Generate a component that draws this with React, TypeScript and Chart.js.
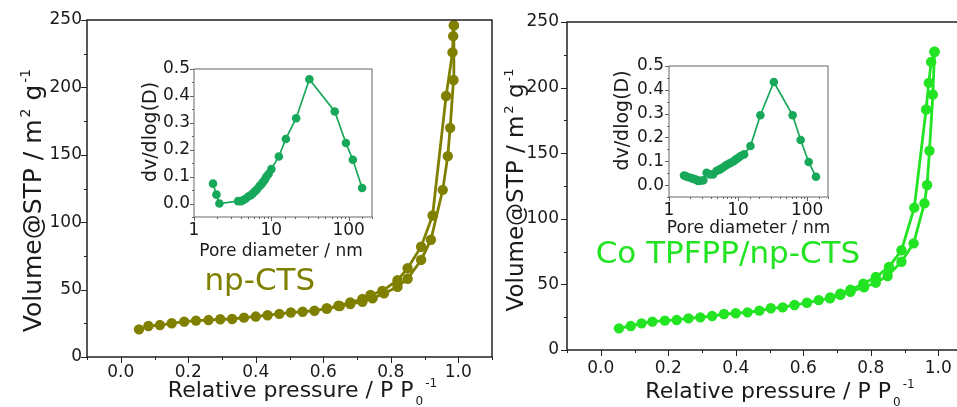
import React, { useEffect, useRef } from 'react';
import { Chart, registerables } from 'chart.js';
Chart.register(...registerables);

const FONT = '"DejaVu Sans", sans-serif';

// ---- np-CTS isotherm ----
const npAdsX = [0.054, 0.082, 0.116, 0.151, 0.188, 0.223, 0.26, 0.295, 0.33, 0.365, 0.4, 0.435, 0.47, 0.504, 0.539, 0.574, 0.611, 0.649, 0.68, 0.716, 0.746, 0.78, 0.82, 0.85, 0.89, 0.919, 0.954, 0.969, 0.976, 0.986, 0.987];
const npAdsY = [20.5, 23, 23.7, 25, 26.2, 27, 27.4, 28, 28.2, 29.2, 30, 31, 32, 33, 33.6, 34.3, 36, 37.8, 39.3, 41, 43.5, 47.2, 52, 58, 72, 87, 124, 149, 170, 205.5, 246];
const npDesX = [0.987, 0.985, 0.983, 0.964, 0.924, 0.89, 0.85, 0.82, 0.775, 0.74, 0.716, 0.68, 0.645, 0.61];
const npDesY = [246, 238, 226, 193.6, 105, 81.8, 65.8, 57, 49, 46, 43, 40.5, 38, 36];

// ---- Co TPFPP/np-CTS isotherm ----
const coAdsX = [0.054, 0.089, 0.121, 0.153, 0.19, 0.225, 0.26, 0.295, 0.33, 0.365, 0.4, 0.435, 0.47, 0.504, 0.539, 0.574, 0.611, 0.646, 0.679, 0.71, 0.74, 0.78, 0.815, 0.85, 0.891, 0.927, 0.959, 0.967, 0.974, 0.984, 0.989];
const coAdsY = [16.5, 18.3, 20.3, 21.6, 22.4, 22.9, 24.1, 24.9, 25.9, 27.4, 28, 28.7, 30, 31.8, 32.5, 34.3, 36, 38, 39.4, 42, 44.4, 47.8, 51.3, 56.4, 67.3, 81.3, 111.8, 125.8, 151.9, 194.7, 227.3];
const coDesX = [0.989, 0.979, 0.972, 0.964, 0.929, 0.891, 0.854, 0.815, 0.778, 0.74, 0.71, 0.68];
const coDesY = [227.3, 219.6, 203.6, 183.3, 108.5, 76, 63.3, 55.6, 50.5, 46, 43, 40];

// ---- pore size distributions (insets) ----
const npPoreD = [1.76, 1.95, 2.13, 3.71, 4.03, 4.3, 4.6, 5.0, 5.4, 5.74, 6.1, 6.5, 7.0, 7.4, 7.76, 8.2, 8.6, 9.2, 10, 12.5, 15.4, 20.9, 31, 66, 92, 113, 149];
const npPoreV = [0.074, 0.033, 0.0, 0.009, 0.009, 0.012, 0.017, 0.025, 0.031, 0.037, 0.045, 0.052, 0.064, 0.071, 0.079, 0.088, 0.099, 0.11, 0.128, 0.175, 0.24, 0.317, 0.462, 0.342, 0.225, 0.163, 0.058];
const coPoreD = [1.65, 1.73, 1.85, 2.04, 2.2, 2.4, 2.55, 2.67, 2.85, 3.14, 3.5, 3.9, 4.35, 4.85, 5.3, 5.7, 6.2, 6.7, 7.3, 7.9, 8.6, 9.3, 10.1, 10.9, 12.2, 15.1, 21, 32.9, 61.6, 80.5, 105, 134];
const coPoreV = [0.04, 0.038, 0.034, 0.031, 0.027, 0.024, 0.02, 0.017, 0.018, 0.02, 0.052, 0.045, 0.045, 0.059, 0.064, 0.069, 0.076, 0.083, 0.089, 0.094, 0.1, 0.108, 0.115, 0.122, 0.129, 0.164, 0.293, 0.433, 0.293, 0.189, 0.097, 0.035];

// ---- text ----
const xTitleMain = [{ t: 'Relative pressure / P P' }, { t: '0', k: 'sub' }, { t: '-1', k: 'sup' }];
const yTitleMain = [{ t: 'Volume@STP / m' }, { t: '2', k: 'sup' }, { t: ' g' }, { t: '-1', k: 'sup' }];
const xTitleInset = [{ t: 'Pore diameter / nm' }];
const yTitleInset = [{ t: 'dv/dlog(D)' }];
const labelNp = 'np-CTS';
const labelCo = 'Co TPFPP/np-CTS';

const OLIVE = '#808000';
const BRIGHT = '#22e422';
const INSET = '#17a85a';
const INK = '#1a1a1a';

type Seg = { t: string; k?: string };

function rich(ctx: any, segs: Seg[], cx: number, cy: number, size: number, rot: boolean, color: string) {
  ctx.save();
  ctx.translate(cx, cy);
  if (rot) ctx.rotate(-Math.PI / 2);
  const small = Math.round(size * 0.55);
  let total = 0;
  const ws = segs.map((s) => {
    ctx.font = `${s.k ? small : size}px ${FONT}`;
    const w = ctx.measureText(s.t).width + (s.k ? 2 : 0);
    total += w;
    return w;
  });
  let x = -total / 2;
  ctx.fillStyle = color;
  ctx.textBaseline = 'alphabetic';
  ctx.textAlign = 'left';
  segs.forEach((s, i) => {
    ctx.font = `${s.k ? small : size}px ${FONT}`;
    const dy = s.k === 'sup' ? -size * 0.45 : s.k === 'sub' ? size * 0.38 : 0;
    ctx.fillText(s.t, x + (s.k ? 2 : 0), dy);
    x += ws[i];
  });
  ctx.restore();
}

function decoPlugin(o: any) {
  return {
    id: 'deco' + Math.random().toString(36).slice(2),
    afterDraw(chart: any) {
      const { ctx, chartArea: a } = chart;
      const xs = chart.scales.x;
      const ys = chart.scales.y;
      ctx.save();
      ctx.strokeStyle = o.frame;
      ctx.lineWidth = o.frameW;
      ctx.strokeRect(a.left, a.top, a.right - a.left, a.bottom - a.top);
      ctx.strokeStyle = o.frame;
      ctx.lineWidth = 1;
      ctx.beginPath();
      xs.ticks.forEach((t: any) => {
        const p = Math.round(xs.getPixelForValue(t.value)) + 0.5;
        if (p < a.left - 1 || p > a.right + 1) return;
        const L = t.label ? o.major : o.minor;
        ctx.moveTo(p, a.bottom);
        ctx.lineTo(p, a.bottom + L);
      });
      ys.ticks.forEach((t: any) => {
        const p = Math.round(ys.getPixelForValue(t.value)) + 0.5;
        if (p < a.top - 1 || p > a.bottom + 1) return;
        const L = t.label ? o.major : o.minor;
        ctx.moveTo(a.left, p);
        ctx.lineTo(a.left - L, p);
      });
      ctx.stroke();
      ctx.restore();
      const cxm = (a.left + a.right) / 2;
      const cym = (a.top + a.bottom) / 2;
      rich(ctx, o.xTitle, cxm + o.xT[0], o.xT[1], o.xTSize, false, INK);
      rich(ctx, o.yTitle, o.yT[0], cym + o.yT[1], o.yTSize, true, INK);
      if (o.label) {
        ctx.save();
        ctx.font = `${o.label.size}px ${FONT}`;
        ctx.fillStyle = o.label.color;
        ctx.textBaseline = 'alphabetic';
        ctx.textAlign = 'left';
        ctx.fillText(o.label.text, xs.getPixelForValue(o.label.x), ys.getPixelForValue(o.label.y));
        ctx.restore();
      }
    },
  };
}

function pts(xs: number[], ys: number[]) {
  return xs.map((x, i) => ({ x, y: ys[i] }));
}

function mainChart(canvas: HTMLCanvasElement, o: any) {
  const ds = (data: any) => ({
    data,
    showLine: true,
    borderColor: o.color,
    backgroundColor: o.color,
    pointBackgroundColor: o.color,
    pointBorderWidth: 0,
    pointRadius: 5.2,
    pointHoverRadius: 5.2,
    borderWidth: 2.8,
  });
  return new Chart(canvas, {
    type: 'scatter',
    data: { datasets: [ds(pts(o.ax, o.ay)), ds(pts(o.dx, o.dy))] },
    options: {
      responsive: false,
      animation: false,
      devicePixelRatio: 1,
      layout: { padding: { left: o.padL, top: o.padT, right: o.padR, bottom: 0 } },
      plugins: { legend: { display: false }, tooltip: { enabled: false } },
      scales: {
        x: {
          type: 'linear',
          min: -0.1,
          max: 1.1,
          grid: { display: false, drawTicks: false },
          border: { display: false },
          ticks: {
            stepSize: 0.1,
            autoSkip: false,
            maxRotation: 0,
            padding: o.xPad,
            color: INK,
            font: { family: FONT, size: 17 },
            callback: (v: number) => {
              const k = Math.round(v * 10);
              return k >= 0 && k <= 10 && k % 2 === 0 ? (k / 10).toFixed(1) : '';
            },
          },
          afterFit: (s: any) => {
            s.height = o.xH;
          },
        },
        y: {
          type: 'linear',
          min: 0,
          max: 250,
          grid: { display: false, drawTicks: false },
          border: { display: false },
          ticks: {
            stepSize: 25,
            autoSkip: false,
            padding: o.yPad,
            color: INK,
            font: { family: FONT, size: 17 },
            callback: (v: number) => (Math.round(v) % 50 === 0 ? String(Math.round(v)) : ''),
          },
          afterFit: (s: any) => {
            s.width = o.yW;
          },
        },
      },
    },
    plugins: [
      decoPlugin({
        frame: '#222',
        frameW: 1.5,
        major: 6,
        minor: 3,
        xTitle: xTitleMain,
        yTitle: yTitleMain,
        xT: o.xT,
        yT: o.yT,
        xTSize: 22,
        yTSize: o.yTSize,
        label: o.label,
      }),
    ],
  } as any);
}

function insetChart(canvas: HTMLCanvasElement, o: any) {
  return new Chart(canvas, {
    type: 'scatter',
    data: {
      datasets: [
        {
          data: pts(o.d, o.v),
          showLine: true,
          borderColor: INSET,
          backgroundColor: INSET,
          pointBackgroundColor: INSET,
          pointBorderWidth: 0,
          pointRadius: 4.3,
          pointHoverRadius: 4.3,
          borderWidth: 1.7,
        },
      ],
    },
    options: {
      responsive: false,
      animation: false,
      devicePixelRatio: 1,
      layout: { padding: { left: 0, top: o.padT, right: o.padR, bottom: 0 } },
      plugins: { legend: { display: false }, tooltip: { enabled: false } },
      scales: {
        x: {
          type: 'logarithmic',
          min: 1,
          max: 200,
          grid: { display: false, drawTicks: false },
          border: { display: false },
          ticks: {
            autoSkip: false,
            maxRotation: 0,
            padding: o.xPad,
            color: INK,
            font: { family: FONT, size: 17 },
            callback: (v: number) => {
              const l = Math.log10(v);
              return Math.abs(l - Math.round(l)) < 1e-6 ? String(Math.round(v)) : '';
            },
          },
          afterFit: (s: any) => {
            s.height = o.xH;
          },
        },
        y: {
          type: 'linear',
          min: -0.05,
          max: 0.5,
          grid: { display: false, drawTicks: false },
          border: { display: false },
          ticks: {
            stepSize: 0.05,
            autoSkip: false,
            padding: o.yPad,
            color: INK,
            font: { family: FONT, size: 17 },
            callback: (v: number) => {
              const k = Math.round(v * 20);
              return k >= 0 && k % 2 === 0 ? (k / 20).toFixed(1) : '';
            },
          },
          afterFit: (s: any) => {
            s.width = o.yW;
          },
        },
      },
    },
    plugins: [
      decoPlugin({
        frame: '#666',
        frameW: 1,
        major: 4,
        minor: 2,
        xTitle: xTitleInset,
        yTitle: yTitleInset,
        xT: o.xT,
        yT: o.yT,
        xTSize: 17,
        yTSize: 19,
      }),
    ],
  } as any);
}

const boxes = [
  { key: 'lm', left: 0, top: 0, w: 500, h: 407 },
  { key: 'rm', left: 480, top: 0, w: 500, h: 407 },
  { key: 'li', left: 130, top: 50, w: 260, h: 220 },
  { key: 'ri', left: 605, top: 45, w: 240, h: 200 },
];

export default function App() {
  const refs = useRef<Record<string, HTMLCanvasElement | null>>({});
  useEffect(() => {
    const charts: any[] = [];
    charts.push(
      mainChart(refs.current.lm!, {
        ax: npAdsX, ay: npAdsY, dx: npDesX, dy: npDesY, color: OLIVE,
        padL: 17, padT: 20, padR: 8, xH: 50, yW: 70, xPad: 5, yPad: 5,
        xT: [13, 397], yT: [41, 12], yTSize: 25,
        label: { text: labelNp, x: 0.248, y: 49.7, size: 31, color: OLIVE },
      })
    );
    charts.push(
      mainChart(refs.current.rm!, {
        ax: coAdsX, ay: coAdsY, dx: coDesX, dy: coDesY, color: BRIGHT,
        padL: 17, padT: 22, padR: 8, xH: 57, yW: 70, xPad: 8, yPad: 8,
        xT: [10.5, 398], yT: [43, 4], yTSize: 23,
        label: { text: labelCo, x: -0.015, y: 66.3, size: 31, color: BRIGHT },
      })
    );
    charts.push(
      insetChart(refs.current.li!, {
        d: npPoreD, v: npPoreV, padT: 19, padR: 18, xH: 53, yW: 64, xPad: 3, yPad: 4,
        xT: [-2, 206], yT: [26, -11],
      })
    );
    charts.push(
      insetChart(refs.current.ri!, {
        d: coPoreD, v: coPoreV, padT: 21, padR: 17, xH: 48, yW: 64, xPad: 3, yPad: 5,
        xT: [0, 188], yT: [23, -11],
      })
    );
    return () => charts.forEach((c) => c.destroy());
  }, []);

  return (
    <div style={{ position: 'fixed', left: 0, top: 0, width: 957, height: 407, overflow: 'hidden', background: '#fff' }}>
      {boxes.map((b) => (
        <canvas
          key={b.key}
          ref={(el) => {
            refs.current[b.key] = el;
          }}
          width={b.w}
          height={b.h}
          style={{ position: 'absolute', left: b.left, top: b.top, width: b.w, height: b.h, display: 'block' }}
        />
      ))}
    </div>
  );
}
